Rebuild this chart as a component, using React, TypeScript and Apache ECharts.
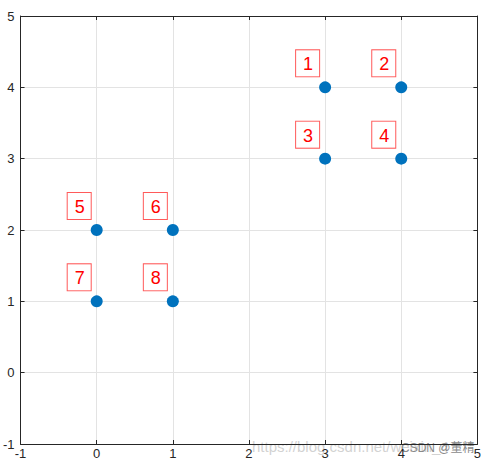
import React, { useEffect, useRef } from "react";
import * as echarts from "echarts";

const pointLabels = ["1", "2", "3", "4", "5", "6", "7", "8"];
const xValues = [3, 4, 3, 4, 0, 1, 0, 1];
const yValues = [4, 4, 3, 3, 2, 2, 1, 1];
const axisMin = -1;
const axisMax = 5;
const watermarkUrl = "https://blog.csdn.net/weixin_4";
const watermarkName = "CSDN @董精";

export default function App() {
  const ref = useRef<HTMLDivElement>(null);
  useEffect(() => {
    document.body.style.margin = "0";
    const chart = echarts.init(ref.current!, null, { renderer: "svg" });
    const data = xValues.map((x, i) => ({ value: [x, yValues[i]], name: pointLabels[i] }));
    const axisCommon = {
      type: "value" as const,
      min: axisMin,
      max: axisMax,
      interval: 1,
      axisLine: { show: true, onZero: false, lineStyle: { color: "#262626", width: 1 } },
      axisTick: { show: true, inside: true, length: 4, lineStyle: { color: "#262626" } },
    };
    chart.setOption({
      animation: false,
      backgroundColor: "#ffffff",
      grid: { left: 20, right: 5, top: 16, bottom: 20, containLabel: false },
      xAxis: [
        {
          ...axisCommon,
          position: "bottom",
          axisLabel: { color: "#262626", fontSize: 13, fontFamily: "Arial, Liberation Sans", margin: 3 },
          splitLine: { show: true, lineStyle: { color: "#e3e3e3", width: 1 } },
        },
        {
          ...axisCommon,
          position: "top",
          axisLabel: { show: false },
          splitLine: { show: false },
        },
      ],
      yAxis: [
        {
          ...axisCommon,
          position: "left",
          axisLabel: { color: "#262626", fontSize: 13, fontFamily: "Arial, Liberation Sans", margin: 6 },
          splitLine: { show: true, lineStyle: { color: "#e3e3e3", width: 1 } },
        },
        {
          ...axisCommon,
          position: "right",
          axisLabel: { show: false },
          splitLine: { show: false },
        },
      ],
      series: [
        {
          type: "scatter",
          data,
          symbolSize: 12,
          itemStyle: { color: "#0072BD", opacity: 1 },
          label: {
            show: true,
            formatter: "{b}",
            position: [-23, -31],
            color: "#ff0000",
            fontSize: 18,
            fontFamily: "Arial, Liberation Sans",
            backgroundColor: "#ffffff",
            borderColor: "#ff5a5a",
            borderWidth: 1,
            padding: [5, 6, 3, 7],
          },
        },
      ],
      graphic: [
        {
          type: "text",
          x: 252,
          y: 439,
          style: {
            text: watermarkUrl,
            fill: "rgba(190,190,190,0.7)",
            fontSize: 15,
            fontFamily: "Arial, Liberation Sans",
          },
        },
        {
          type: "text",
          x: 401,
          y: 442,
          style: {
            text: watermarkName,
            fill: "#8a8a8a",
            fontSize: 12,
            fontFamily: "Arial, Noto Sans CJK SC",
          },
        },
      ],
    });
    return () => chart.dispose();
  }, []);
  return <div ref={ref} style={{ width: 484, height: 464 }} />;
}
